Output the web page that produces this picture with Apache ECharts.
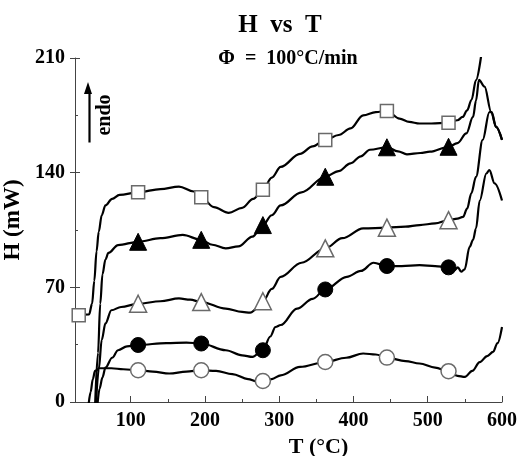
<!DOCTYPE html>
<html><head><meta charset="utf-8">
<script src="https://cdn.jsdelivr.net/npm/echarts@6/dist/echarts.min.js"></script>
<style>html,body{margin:0;padding:0;background:#fff}#c{width:519px;height:456px}</style>
</head><body><div id="c"></div>
<script>
// ---- data (T in °C, H in mW) ----
const xTicks = [100, 200, 300, 400, 500, 600];
const xMinorTicks = [150, 250, 350, 450, 550];
const yTicks = [0, 70, 140, 210];

const sqLine = [[25,53],[44,53.5],[48,60],[51,74],[54,92],[57,104],[61,114],[66,120],[75,124],[85,126.5],[110,128],[140,130],[165,131.5],[185,128.5],[195,125],[212,119],[232,115.5],[250,118.5],[265,124],[278,129.5],[290,137],[302,143.5],[328,151.5],[345,156],[362,160],[380,163],[396,167],[413,175],[430,177],[445,177.7],[462,173],[475,171],[489,170],[505,170],[528,170.5],[540,172],[547,174],[553,178],[559,184.5],[565,196.5],[573,215]];
const ftLine = [[52,-3],[56,30],[59,60],[62,78],[66,87],[70,91],[83,95.8],[110,97.8],[140,100],[170,102],[195,99],[210,96],[228,93.8],[245,95],[264,101],[278,108],[290,114],[302,120],[330,128],[362,137.5],[380,141],[396,145.7],[410,150],[422,154],[445,155.5],[460,153],[472,151.2],[490,152],[503,152.8],[528,155.8],[540,158],[552,164],[561,174],[565,184],[569,196.6],[576.5,192.5],[585.5,177],[592,168],[600,160]];
const otLine = [[53,-3],[57,20],[61,38],[66,48],[74,56],[87,58],[110,60],[140,61.5],[165,63.2],[180,62.5],[195,61],[228,57],[250,55],[261,54.5],[270,57],[278,61.5],[290,69],[302,76.4],[330,85],[362,93.8],[385,100],[413,106],[445,106.4],[470,107],[489,108],[510,109],[528,111],[540,112],[547.5,113],[553,118],[558.7,127.4],[565,137.5],[574,160],[583,177],[586,177],[592,168],[600,160]];
const fcLine = [[55,-3],[58,8],[62,15],[66,21],[75,27],[83,31.6],[95,34],[110,34.8],[148,36],[175,36.3],[195,35.7],[228,31.6],[250,28.5],[264,27.5],[278,31.6],[288,40],[295,45.8],[302,47],[324,57],[345,63],[362,68.7],[391,76.4],[410,80],[427,85],[445,83],[465,83],[489,83.6],[510,83],[528,82.2],[536,80.5],[540.6,82.2],[545,79.5],[549.7,81],[556.4,94.7],[561,99],[565,106],[570,123],[579,139.6],[583,141.6],[590,133.5],[600,123]];
const ocLine = [[43,-3],[46,6],[49,14],[52,19],[58,20.6],[74,20.6],[90,20],[110,19.4],[130,18.5],[152,17.4],[175,18.5],[195,19.4],[215,19],[237,17],[258,14],[270,12.5],[278,12.8],[290,14],[302,16.3],[328,21.4],[362,24.4],[390,27],[413,29.6],[430,29],[445,27.1],[470,25],[489,23.5],[510,21],[528,18.8],[540,16],[550,15.3],[560,19],[570,24.4],[580,28],[588,30.6],[594,36],[600,45.8]];

const sqMarks = [[30,53],[110,128],[195,125],[278,129.5],[362,160],[445,177.7],[528,170.5]];
const ftMarks = [[110,97.8],[195,99],[278,108],[362,137.5],[445,155.5],[528,155.8]];
const otMarks = [[110,60],[195,61],[278,61.5],[362,93.8],[445,106.4],[528,111]];
const fcMarks = [[110,34.8],[195,35.7],[278,31.6],[362,68.7],[445,83],[528,82.2]];
const ocMarks = [[110,19.4],[195,19.4],[278,12.8],[362,24.4],[445,27.1],[528,18.8]];

// ---- chart ----
const FONT = 'Liberation Serif';
const chart = echarts.init(document.getElementById('c'), null, {renderer: 'canvas'});

function lineSeries(data) {
  return {type: 'line', data: data, showSymbol: false, symbol: 'none', smooth: 0.35, smoothMonotone: 'x',
          lineStyle: {color: '#000', width: 2.2}, z: 2, silent: true};
}
function markSeries(data, symbol, size, filled) {
  return {type: 'scatter', data: data, symbol: symbol, symbolSize: size, z: 5, silent: true,
          itemStyle: filled ? {color: '#000', borderColor: '#000', borderWidth: 1, opacity: 1}
                            : {color: '#fff', borderColor: '#6a6a6a', borderWidth: 1.5, opacity: 1}};
}

const option = {
  animation: false,
  backgroundColor: '#fff',
  title: [
    {text: 'H  vs  T', left: 280, top: 13, textAlign: 'center', padding: 0,
     textStyle: {fontFamily: FONT, fontWeight: 'bold', fontSize: 25, color: '#000'}},
    {text: 'Φ  =  100°C/min', left: 288, top: 49, textAlign: 'center', padding: 0,
     textStyle: {fontFamily: FONT, fontWeight: 'bold', fontSize: 20, color: '#000'}}
  ],
  grid: {left: 75, right: 17, top: 58, bottom: 54, containLabel: false, outerBoundsMode: 'none'},
  xAxis: [
    {type: 'value', min: 25, max: 600, position: 'bottom',
     name: 'T (°C)', nameLocation: 'middle', nameGap: 34,
     nameTextStyle: {fontFamily: FONT, fontWeight: 'bold', fontSize: 22, color: '#000', padding: [0, 0, 0, 60]},
     axisLine: {show: true, lineStyle: {color: '#444', width: 1}},
     axisTick: {show: true, inside: true, length: 6, customValues: xTicks, lineStyle: {color: '#444'}},
     axisLabel: {show: true, margin: 9, customValues: xTicks, fontFamily: FONT, fontWeight: 'bold', fontSize: 20, color: '#000'},
     splitLine: {show: false}},
    {type: 'value', min: 25, max: 600, position: 'bottom',
     axisLine: {show: false},
     axisTick: {show: true, inside: true, length: 3, customValues: xMinorTicks, lineStyle: {color: '#444'}},
     axisLabel: {show: false},
     splitLine: {show: false}}
  ],
  yAxis: [
    {type: 'value', min: 0, max: 210, interval: 70, position: 'left',
     name: 'H (mW)', nameLocation: 'middle', nameGap: 35, nameRotate: 90,
     nameTextStyle: {fontFamily: FONT, fontWeight: 'bold', fontSize: 23, color: '#000', padding: [0, 0, 0, 20]},
     axisLine: {show: true, lineStyle: {color: '#444', width: 1}},
     axisTick: {show: true, inside: true, length: 5, lineStyle: {color: '#444'}},
     minorTick: {show: true, splitNumber: 2, length: 3, lineStyle: {color: '#444'}},
     axisLabel: {show: true, margin: 10, fontFamily: FONT, fontWeight: 'bold', fontSize: 20, color: '#000',
                 customValues: yTicks},
     splitLine: {show: false}, minorSplitLine: {show: false}},
    {type: 'value', min: 0, max: 210, interval: 70, position: 'left',
     axisLine: {show: false},
     axisTick: {show: true, inside: false, length: 5, lineStyle: {color: '#444'}},
     axisLabel: {show: false}, splitLine: {show: false}}
  ],
  graphic: [
    {type: 'line', left: 87, top: 90, shape: {x1: 0, y1: 0, x2: 0, y2: 50}, style: {stroke: '#000', lineWidth: 2.2}},
    {type: 'polygon', left: 84, top: 82, shape: {points: [[4, 0], [0, 12], [8, 12]]}, style: {fill: '#000'}},
    {type: 'text', x: 105, y: 115, rotation: Math.PI / 2,
     style: {text: 'endo', font: 'bold 20px "Liberation Serif"', fill: '#000', align: 'center', verticalAlign: 'middle'}}
  ],
  series: [
    lineSeries(ocLine), lineSeries(fcLine), lineSeries(otLine), lineSeries(ftLine), lineSeries(sqLine),
    markSeries(ocMarks, 'circle', 15, false),
    markSeries(fcMarks, 'circle', 15, true),
    markSeries(otMarks, 'triangle', 17, false),
    markSeries(ftMarks, 'triangle', 17, true),
    markSeries(sqMarks, 'rect', 13, false)
  ]
};
chart.setOption(option);
</script>
</body></html>
